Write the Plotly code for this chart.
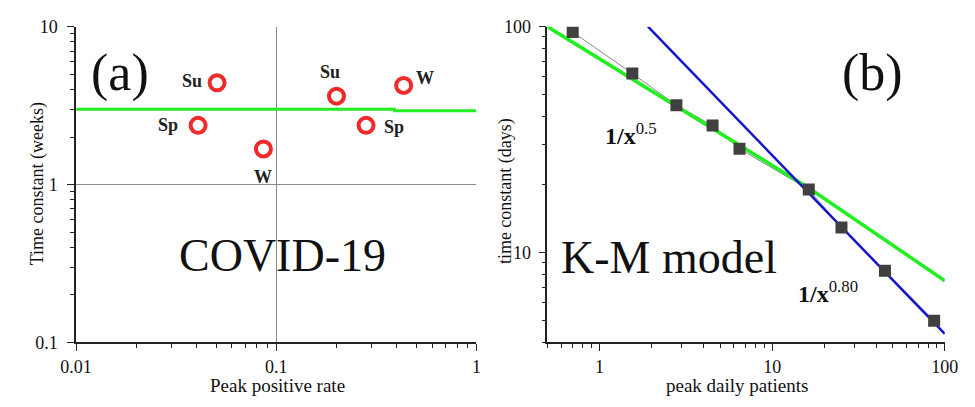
import math
import plotly.graph_objects as go

# ---------------- data: panel (a) COVID-19 ----------------
covid_rate = [0.0506, 0.0407, 0.0863, 0.200, 0.281, 0.433]
covid_tau_weeks = [4.41, 2.37, 1.68, 3.63, 2.37, 4.24]
covid_season = ["Su", "Sp", "W", "Su", "Sp", "W"]
covid_fit_x = [0.01, 0.39, 0.39, 1.0]
covid_fit_y = [3.0, 3.0, 2.93, 2.93]

# ---------------- data: panel (b) K-M model ----------------
km_patients = [0.70, 1.55, 2.79, 4.52, 6.47, 16.3, 25.2, 45.0, 86.7]
km_tau_days = [94.6, 62.0, 44.9, 36.5, 28.8, 19.0, 12.9, 8.3, 4.99]
fit05_x = [0.5, 16.3, 100.0]
fit05_y = [100.0, 19.3, 7.5]
fit080_x = [1.91, 100.0]
fit080_y = [100.0, 4.36]

# tick labels
a_x_ticks = [0.01, 0.1, 1]
a_x_text = ["0.01", "0.1", "1"]
a_y_ticks = [0.1, 1, 10]
a_y_text = ["0.1", "1", "10"]
b_x_ticks = [1, 10, 100]
b_x_text = ["1", "10", "100"]
b_y_ticks = [10, 100]
b_y_text = ["10", "100"]

FONT = "Liberation Serif"


def minor_vals(lo_exp, hi_exp):
    vals = []
    for e in range(lo_exp, hi_exp):
        for m in range(2, 10):
            vals.append(m * 10 ** e)
    return vals


a_x_minor = minor_vals(-2, 0)
a_y_minor = minor_vals(-1, 1)
b_x_minor = [0.5, 0.6, 0.7, 0.8, 0.9] + minor_vals(0, 2)
b_y_minor = [4, 5, 6, 7, 8, 9] + minor_vals(1, 2)

fig = go.Figure()

# panel (a)
fig.add_trace(go.Scatter(x=covid_fit_x, y=covid_fit_y, mode="lines",
                         line=dict(color="#22ee22", width=3),
                         xaxis="x", yaxis="y", showlegend=False))
fig.add_trace(go.Scatter(x=covid_rate, y=covid_tau_weeks, mode="markers",
                         marker=dict(symbol="circle-open", size=15, color="#ee2a2a",
                                     line=dict(width=4, color="#ee2a2a")),
                         xaxis="x", yaxis="y", showlegend=False))

# panel (b)
fig.add_trace(go.Scatter(x=km_patients, y=km_tau_days, mode="lines",
                         line=dict(color="#888888", width=1),
                         xaxis="x2", yaxis="y2", showlegend=False))
fig.add_trace(go.Scatter(x=fit05_x, y=fit05_y, mode="lines",
                         line=dict(color="#22ee22", width=3.5),
                         xaxis="x2", yaxis="y2", showlegend=False))
fig.add_trace(go.Scatter(x=fit080_x, y=fit080_y, mode="lines",
                         line=dict(color="#1414cc", width=2.5),
                         xaxis="x2", yaxis="y2", showlegend=False))
fig.add_trace(go.Scatter(x=km_patients, y=km_tau_days, mode="markers",
                         marker=dict(symbol="square", size=12, color="#404040"),
                         xaxis="x2", yaxis="y2", showlegend=False))

tickfont = dict(family=FONT, size=18, color="#111111")


def axis(rng, dom, tv, tt, mv, ticks, anchor, grid=False, side=None,
         overlaying=None, labels=True, standoff=0):
    d = dict(type="log", range=rng, tickmode="array", tickvals=tv, ticktext=tt,
             ticks=ticks, ticklen=7, tickwidth=1.2, tickcolor="#222222",
             showline=True, linecolor="#222222", linewidth=1.5,
             showticklabels=labels, tickfont=tickfont, zeroline=False,
             showgrid=grid, gridcolor="#8a8a8a", gridwidth=1,
             minor=dict(tickmode="array", tickvals=mv, ticks=ticks, ticklen=4,
                        tickwidth=1, tickcolor="#222222", showgrid=False),
             anchor=anchor, fixedrange=True)
    if standoff:
        d["ticklabelstandoff"] = standoff
    if dom is not None:
        d["domain"] = dom
    if side:
        d["side"] = side
    if overlaying:
        d["overlaying"] = overlaying
    return d


ydom = [0.141, 0.957]
xa = axis([-2, 0], [0.0636, 0.4872], a_x_ticks, a_x_text, a_x_minor, "outside", "y", grid=True)
ya = axis([-1, 1], ydom, a_y_ticks, a_y_text, a_y_minor, "outside", "x", grid=True, standoff=6)
xa_top = axis([-2, 0], None, a_x_ticks, a_x_text, a_x_minor, "inside", "y",
              side="top", overlaying="x", labels=False)
ya_right = axis([-1, 1], None, a_y_ticks, a_y_text, a_y_minor, "outside", "x",
                side="right", overlaying="y", labels=False)

xb = axis([-0.30103, 2], [0.5624, 0.9829], b_x_ticks, b_x_text, b_x_minor, "outside", "y2")
yb = axis([0.602, 2], ydom, b_y_ticks, b_y_text, b_y_minor, "outside", "x2", standoff=4)
xb_top = axis([-0.30103, 2], None, b_x_ticks, b_x_text, b_x_minor, "inside", "y2",
              side="top", overlaying="x2", labels=False)
yb_right = axis([0.602, 2], None, b_y_ticks, b_y_text, b_y_minor, "inside", "x2",
                side="right", overlaying="y2", labels=False)

fig.update_layout(
    width=975, height=407,
    margin=dict(l=0, r=0, t=0, b=0),
    paper_bgcolor="white", plot_bgcolor="white",
    font=dict(family=FONT, color="#111111"),
    xaxis=xa, yaxis=ya, xaxis3=xa_top, yaxis3=ya_right,
    xaxis2=xb, yaxis2=yb, xaxis4=xb_top, yaxis4=yb_right,
    showlegend=False,
)

# season labels around the COVID-19 points (pixel offsets)
label_shift = [(-25, 2), (-30, 0), (0, -28), (-7, 24), (28, -2), (21, 7)]
for xv, yv, lab, (dx, dy) in zip(covid_rate, covid_tau_weeks, covid_season, label_shift):
    fig.add_annotation(x=math.log10(xv), y=math.log10(yv),
                       xref="x", yref="y", text="<b>" + lab + "</b>", showarrow=False,
                       xshift=dx, yshift=dy,
                       font=dict(family=FONT, size=18, color="#222222"))


def pann(x, y, text, size, angle=0, xanchor="center"):
    fig.add_annotation(x=x / 975, y=1 - y / 407, xref="paper", yref="paper",
                       text=text, showarrow=False, textangle=angle,
                       xanchor=xanchor, yanchor="middle",
                       font=dict(family=FONT, size=size, color="#111111"))


pann(107, 66, "(a)", 52)
pann(275, 258, "COVID-19", 46)
pann(884, 66, "(b)", 52)
pann(674, 260, "K-M model", 46)
pann(606, 130, "<b>1/x</b><sup>0.5</sup>", 24, xanchor="left")
pann(805, 297, "<b>1/x</b><sup>0.80</sup>", 24, xanchor="left")
# axis titles
pann(22, 183, "Time constant (weeks)", 18, angle=-90)
pann(270, 395, "Peak positive rate", 19)
pann(505, 190, "time constant (days)", 18, angle=-90)
pann(744, 395, "peak daily patients", 19)

fig.write_html("out.html")
